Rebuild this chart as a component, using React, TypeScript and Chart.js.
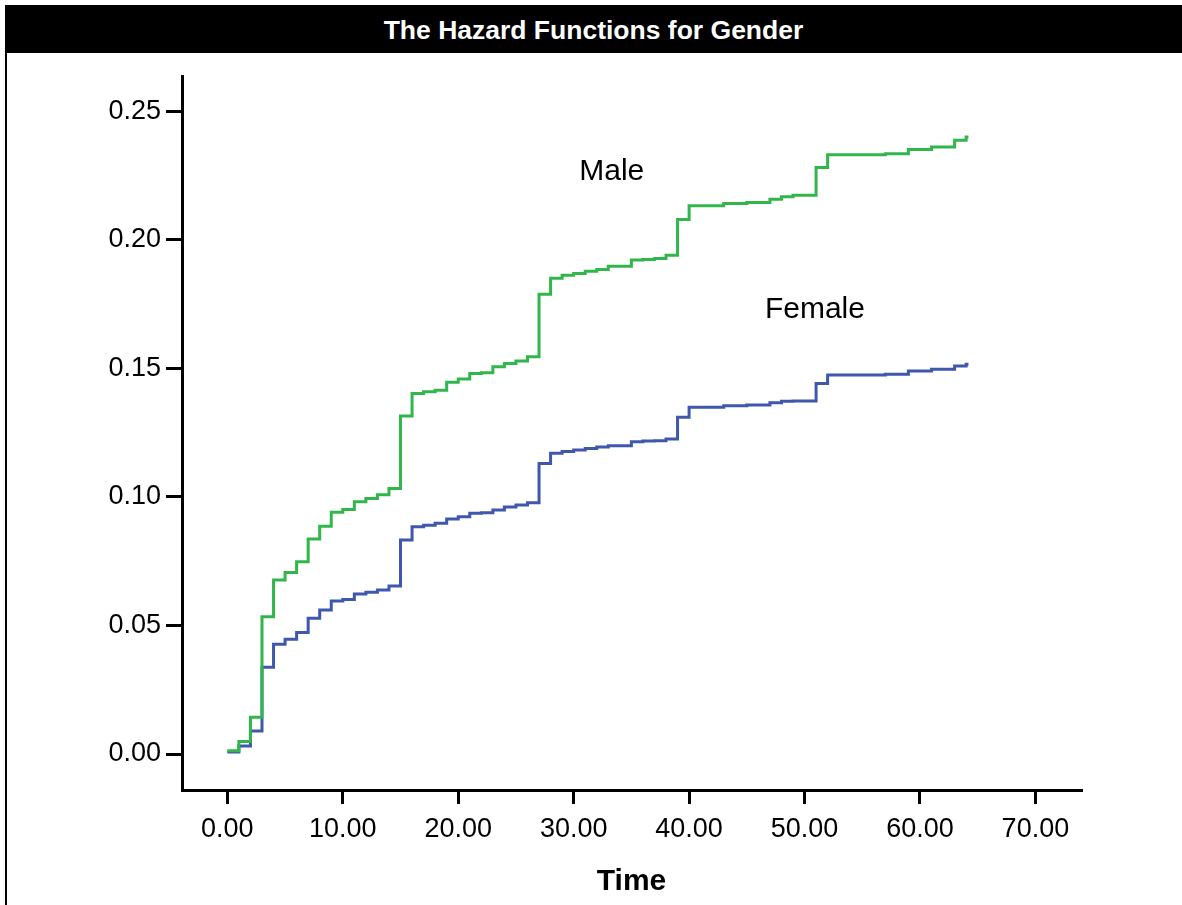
import React, { useEffect, useRef } from 'react';
import { Chart, registerables } from 'chart.js';

Chart.register(...registerables);

const TITLE = 'The Hazard Functions for Gender';
const X_TITLE = 'Time';

const times = [0, 1, 2, 3, 4, 5, 6, 7, 8, 9, 10, 11, 12, 13, 14, 15, 16, 17, 18, 19, 20, 21, 22, 23, 24, 25, 26, 27, 28, 29, 30, 31, 32, 33, 34, 35, 36, 37, 38, 39, 40, 43, 45, 47, 48, 49, 51, 52, 57, 59, 61, 63, 64, 64.2];

const maleHazard = [0.0013, 0.0049, 0.0143, 0.0534, 0.0677, 0.0706, 0.0748, 0.0836, 0.0886, 0.094, 0.0951, 0.0981, 0.0994, 0.1008, 0.1033, 0.1315, 0.1402, 0.1409, 0.1415, 0.1446, 0.1459, 0.148, 0.1483, 0.1506, 0.1519, 0.1529, 0.1545, 0.1788, 0.185, 0.1862, 0.1869, 0.1878, 0.1884, 0.1897, 0.1897, 0.1921, 0.1923, 0.1927, 0.194, 0.2079, 0.2132, 0.2141, 0.2145, 0.2158, 0.2167, 0.2173, 0.2281, 0.2331, 0.2335, 0.2351, 0.2361, 0.2387, 0.24, 0.24];

const femaleHazard = [0.0008, 0.0031, 0.0089, 0.0337, 0.0427, 0.0446, 0.0473, 0.0528, 0.056, 0.0595, 0.0601, 0.0622, 0.0629, 0.0638, 0.0653, 0.0832, 0.0884, 0.089, 0.0897, 0.0914, 0.0923, 0.0936, 0.0938, 0.0949, 0.0961, 0.0968, 0.0977, 0.113, 0.117, 0.1177, 0.1182, 0.1188, 0.1194, 0.1199, 0.1199, 0.1214, 0.1217, 0.1218, 0.1225, 0.131, 0.1349, 0.1354, 0.1357, 0.1366, 0.1372, 0.1373, 0.1441, 0.1474, 0.1477, 0.149, 0.1496, 0.1509, 0.1516, 0.1516];

const xTicks = [0, 10, 20, 30, 40, 50, 60, 70];
const yTicks = [0, 0.05, 0.1, 0.15, 0.2, 0.25];

const seriesNames = ['Male', 'Female'];
const seriesColors = ['#30b64b', '#3f57ad'];
const labelX = [33.3, 50.9];
const labelY = [0.2266, 0.1726];

const FONT = "'Liberation Sans', Arial, Helvetica, sans-serif";

const labelPlugin = {
  id: 'seriesLabels',
  afterDatasetsDraw(chart: any) {
    const { ctx, scales } = chart;
    ctx.save();
    ctx.fillStyle = '#000';
    ctx.font = `30px ${FONT}`;
    ctx.textAlign = 'center';
    ctx.textBaseline = 'middle';
    seriesNames.forEach((name, i) => {
      ctx.fillText(name, scales.x.getPixelForValue(labelX[i]), scales.y.getPixelForValue(labelY[i]));
    });
    ctx.restore();
  },
};

export default function App() {
  const canvasRef = useRef<HTMLCanvasElement | null>(null);

  useEffect(() => {
    const prevMargin = document.body.style.margin;
    document.body.style.margin = '0';
    const canvas = canvasRef.current;
    if (!canvas) return;
    const series = [maleHazard, femaleHazard];
    const chart = new Chart(canvas, {
      type: 'line',
      data: {
        datasets: series.map((vals, i) => ({
          label: seriesNames[i],
          data: times.map((t, k) => ({ x: t, y: vals[k] })),
          borderColor: seriesColors[i],
          backgroundColor: seriesColors[i],
          borderWidth: 3,
          pointRadius: 0,
          stepped: true,
          fill: false,
          borderJoinStyle: 'miter',
          borderCapStyle: 'butt',
        })),
      },
      options: {
        responsive: false,
        animation: false,
        devicePixelRatio: 1,
        layout: { padding: { top: 76, right: 101, left: 0, bottom: 0 } },
        plugins: {
          legend: { display: false },
          tooltip: { enabled: false },
          title: { display: false },
        },
        scales: {
          x: {
            type: 'linear',
            min: -3.93,
            max: 73.95,
            afterFit: (scale: any) => { scale.height = 115; },
            afterBuildTicks: (scale: any) => { scale.ticks = xTicks.map((v) => ({ value: v })); },
            border: { display: true, color: '#000', width: 3 },
            grid: { display: true, drawOnChartArea: false, drawTicks: true, tickLength: 14, color: '#000', lineWidth: 3 },
            ticks: {
              color: '#000',
              font: { family: FONT, size: 27 },
              padding: 9,
              maxRotation: 0,
              autoSkip: false,
              callback: (v: any) => Number(v).toFixed(2),
            },
            title: {
              display: true,
              text: X_TITLE,
              color: '#000',
              font: { family: FONT, size: 30, weight: 'bold' },
              padding: { top: 0, bottom: 5 },
            },
          },
          y: {
            type: 'linear',
            min: -0.014,
            max: 0.2637,
            afterFit: (scale: any) => { scale.width = 182; },
            afterBuildTicks: (scale: any) => { scale.ticks = yTicks.map((v) => ({ value: v })); },
            border: { display: true, color: '#000', width: 3 },
            grid: { display: true, drawOnChartArea: false, drawTicks: true, tickLength: 16, color: '#000', lineWidth: 3 },
            ticks: {
              color: '#000',
              font: { family: FONT, size: 27 },
              padding: 5,
              autoSkip: false,
              callback: (v: any) => Number(v).toFixed(2),
            },
          },
        },
      },
      plugins: [labelPlugin],
    } as any);
    return () => {
      chart.destroy();
      document.body.style.margin = prevMargin;
    };
  }, []);

  return (
    <div style={{ position: 'absolute', left: 0, top: 0, width: 1182, height: 905, background: '#fff', overflow: 'hidden' }}>
      <canvas ref={canvasRef} width={1182} height={905} style={{ position: 'absolute', left: 0, top: 0, display: 'block' }} />
      <div style={{ position: 'absolute', left: 5, top: 5, width: 2, height: 900, background: '#000' }} />
      <div
        style={{
          position: 'absolute', left: 5, top: 5, width: 1177, height: 48, background: '#000', color: '#fff',
          fontFamily: FONT, fontWeight: 'bold', fontSize: 26.5, lineHeight: '51px', textAlign: 'center',
          boxSizing: 'border-box', overflow: 'hidden',
        }}
      >
        {TITLE}
      </div>
    </div>
  );
}
